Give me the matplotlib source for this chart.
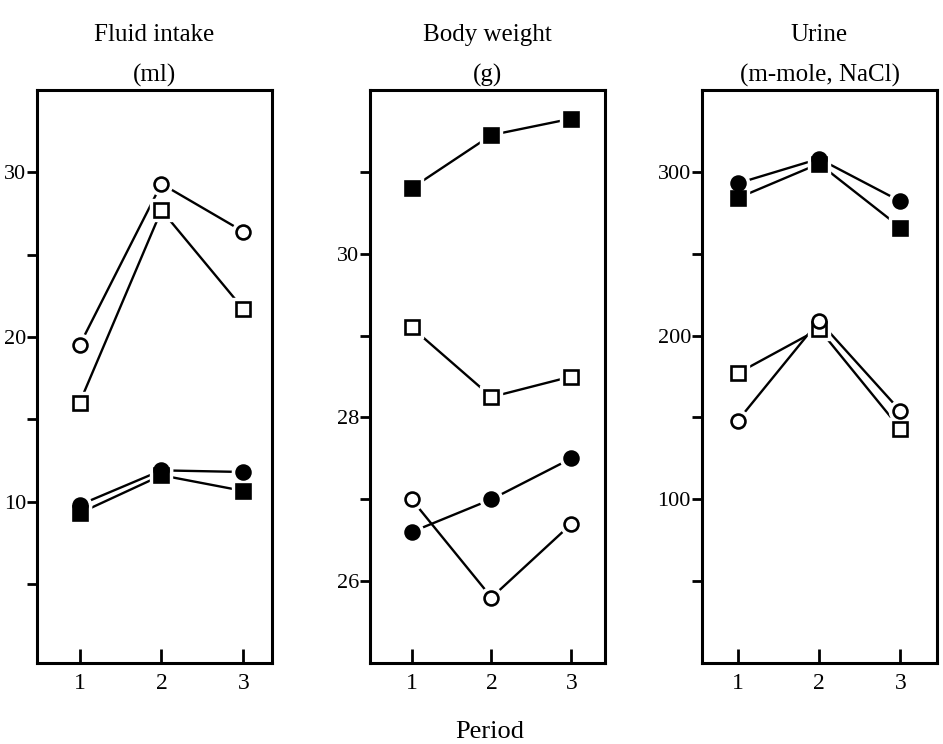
import matplotlib.pyplot as plt

plt.rcParams['font.family'] = ['Liberation Serif', 'DejaVu Serif']

periods = [1, 2, 3]

# fluid intake (ml)
fluid_open_circle = [19.5, 29.3, 26.4]
fluid_open_square = [16.0, 27.7, 21.7]
fluid_filled_circle = [9.8, 11.9, 11.8]
fluid_filled_square = [9.3, 11.6, 10.65]

# body weight (g)
weight_filled_square = [30.8, 31.45, 31.65]
weight_open_square = [29.1, 28.25, 28.5]
weight_filled_circle = [26.6, 27.0, 27.5]
weight_open_circle = [27.0, 25.8, 26.7]

# urine NaCl (m-mole)
urine_filled_circle = [293, 308, 282]
urine_filled_square = [284, 305, 266]
urine_open_square = [177, 204, 143]
urine_open_circle = [148, 209, 154]

titles = [("Fluid intake", "(ml)"), ("Body weight", "(g)"),
          ("Urine", "(m-mole, NaCl)")]


def draw_series(ax, y, marker, filled):
    ax.plot(periods, y, color='black', lw=1.7, zorder=1)
    # white halo so the connecting line stops short of each symbol
    ax.plot(periods, y, ls='none', marker=marker, ms=16, mfc='white',
            mec='white', zorder=2)
    ax.plot(periods, y, ls='none', marker=marker, ms=10,
            mfc='black' if filled else 'white', mec='black', mew=1.9, zorder=3)


fig = plt.figure(figsize=(9.43, 7.44), dpi=100)
lefts = [37 / 943, 370 / 943, 702 / 943]
width = 235 / 943
axes = [fig.add_axes([l, 81 / 744, width, 573 / 744]) for l in lefts]

ax1, ax2, ax3 = axes
draw_series(ax1, fluid_open_circle, 'o', False)
draw_series(ax1, fluid_open_square, 's', False)
draw_series(ax1, fluid_filled_circle, 'o', True)
draw_series(ax1, fluid_filled_square, 's', True)
ax1.set_ylim(0.2, 35)
ax1.set_xlim(0.48, 3.35)
ax1.set_yticks([5, 10, 15, 20, 25, 30])
ax1.set_yticklabels(['', '10', '', '20', '', '30'])

draw_series(ax2, weight_filled_square, 's', True)
draw_series(ax2, weight_open_square, 's', False)
draw_series(ax2, weight_filled_circle, 'o', True)
draw_series(ax2, weight_open_circle, 'o', False)
ax2.set_ylim(25.0, 32.0)
ax2.set_xlim(0.48, 3.42)
ax2.set_yticks([26, 27, 28, 29, 30, 31])
ax2.set_yticklabels(['26', '', '28', '', '30', ''])

draw_series(ax3, urine_filled_circle, 'o', True)
draw_series(ax3, urine_filled_square, 's', True)
draw_series(ax3, urine_open_square, 's', False)
draw_series(ax3, urine_open_circle, 'o', False)
ax3.set_ylim(0, 350)
ax3.set_xlim(0.56, 3.45)
ax3.set_yticks([50, 100, 150, 200, 250, 300])
ax3.set_yticklabels(['', '100', '', '200', '', '300'])

for ax, (line1, line2) in zip(axes, titles):
    ax.set_xticks(periods)
    ax.tick_params(axis='x', direction='in', length=10, width=2,
                   labelsize=17, pad=7)
    ax.tick_params(axis='y', direction='out', length=7, width=2,
                   labelsize=16, pad=1)
    for s in ax.spines.values():
        s.set_linewidth(2.2)
    pos = ax.get_position()
    cx = (pos.x0 + pos.x1) / 2
    fig.text(cx, 1 - 35 / 744, line1, ha='center', va='center', fontsize=18)
    fig.text(cx, 1 - 75 / 744, line2, ha='center', va='center', fontsize=18)

fig.text(490 / 943, 1 - 732 / 744, "Period", ha='center', va='center',
         fontsize=19)

fig.savefig('out.png', dpi=100)
